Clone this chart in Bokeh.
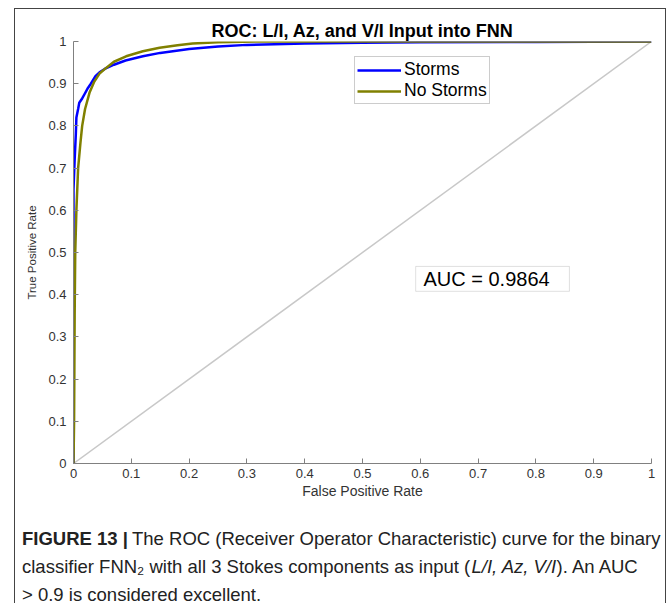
from bokeh.plotting import figure
from bokeh.layouts import column
from bokeh.models import Range1d, FixedTicker, Legend, LegendItem, Label, BoxAnnotation
from bokeh.embed import file_html
from bokeh.resources import INLINE

# ---------------- data ----------------
title_text = "ROC: L/I, Az, and V/I Input into FNN"
x_label = "False Positive Rate"
y_label = "True Positive Rate"
tick_values = [0, 0.1, 0.2, 0.3, 0.4, 0.5, 0.6, 0.7, 0.8, 0.9, 1]
tick_labels = ["0", "0.1", "0.2", "0.3", "0.4", "0.5", "0.6", "0.7", "0.8", "0.9", "1"]

series_names = ["Storms", "No Storms"]

storms_fpr = [0.0, 0.0, 0.0, 0.002, 0.004, 0.005, 0.008, 0.010, 0.015, 0.019, 0.025, 0.030,
              0.038, 0.045, 0.054, 0.070, 0.090, 0.120, 0.150, 0.200, 0.250, 0.300, 0.400,
              0.500, 0.600, 0.800, 1.0]
storms_tpr = [0.0, 0.45, 0.65, 0.72, 0.78, 0.82, 0.84, 0.855, 0.865, 0.875, 0.890, 0.900,
              0.918, 0.927, 0.935, 0.945, 0.955, 0.965, 0.973, 0.982, 0.988, 0.992, 0.995,
              0.997, 0.998, 0.999, 1.0]

nostorms_fpr = [0.0, 0.001, 0.002, 0.003, 0.005, 0.008, 0.012, 0.015, 0.020, 0.028, 0.036,
                0.045, 0.057, 0.070, 0.091, 0.120, 0.149, 0.180, 0.206, 0.250, 0.320, 1.0]
nostorms_tpr = [0.0, 0.10, 0.35, 0.50, 0.60, 0.70, 0.76, 0.80, 0.84, 0.880, 0.905,
                0.924, 0.938, 0.952, 0.965, 0.977, 0.985, 0.991, 0.995, 0.998, 1.0, 1.0]

chance_fpr = [0.0, 1.0]
chance_tpr = [0.0, 1.0]

auc_text = "AUC = 0.9864"

caption_bold = "FIGURE 13 |"
caption_l1 = "The ROC (Receiver Operator Characteristic) curve for the binary"
caption_l2a = "classifier FNN\u2082 with all 3 Stokes components as input ("
caption_l2b = "L/I, Az, V/I"
caption_l2c = "). An AUC"
caption_l3 = "> 0.9 is considered excellent."

FONT = "Liberation Sans"

# ---------------- chart figure ----------------
p = figure(width=650, height=500, output_backend="svg", toolbar_location=None,
           x_range=Range1d(0, 1), y_range=Range1d(0, 1),
           min_border_left=58, min_border_right=14, min_border_top=32, min_border_bottom=46)
p.frame_align = False
p.outline_line_color = None
p.grid.visible = False
p.background_fill_color = "white"
p.border_fill_color = "white"

p.title.text = title_text
p.title.align = "center"
p.title.text_font = FONT
p.title.text_font_size = "18px"
p.title.text_font_style = "bold"
p.title.text_color = "black"
p.title.standoff = 2

for ax in (p.xaxis[0], p.yaxis[0]):
    ax.ticker = FixedTicker(ticks=tick_values)
    ax.major_label_overrides = dict(zip(tick_values, tick_labels))
    ax.minor_tick_line_color = None
    ax.major_tick_in = 5
    ax.major_tick_out = 0
    ax.axis_line_color = "#808080"
    ax.major_tick_line_color = "#808080"
    ax.major_label_text_font = FONT
    ax.major_label_text_font_size = "13px"
    ax.major_label_text_color = "#333333"
    ax.axis_label_text_font = FONT
    ax.axis_label_text_font_style = "normal"
    ax.axis_label_text_color = "#333333"

p.xaxis.axis_label = x_label
p.xaxis.axis_label_text_font_size = "14px"
p.xaxis.axis_label_standoff = 2
p.xaxis.major_label_standoff = 5
p.yaxis.axis_label = y_label
p.yaxis.axis_label_text_font_size = "11.5px"
p.yaxis.axis_label_standoff = 7
p.yaxis.major_label_standoff = 7

p.line(chance_fpr, chance_tpr, line_color="#c8c8c8", line_width=1.5)
r_storm = p.line(storms_fpr, storms_tpr, line_color="#0000ff", line_width=2.5)
r_nostorm = p.line(nostorms_fpr, nostorms_tpr, line_color="#808000", line_width=2.5)

legend = Legend(items=[LegendItem(label=series_names[0], renderers=[r_storm]),
                       LegendItem(label=series_names[1], renderers=[r_nostorm])],
                location=(281, 359))
legend.label_text_font = FONT
legend.label_text_font_size = "17.5px"
legend.label_text_color = "black"
legend.glyph_width = 44
legend.glyph_height = 16
legend.label_height = 16
legend.label_standoff = 3
legend.padding = 2
legend.spacing = 0
legend.margin = 0
legend.border_line_color = "#999999"
legend.border_line_width = 1
legend.background_fill_alpha = 1
p.add_layout(legend)

# AUC box
p.add_layout(BoxAnnotation(left=0.592, right=0.858, bottom=0.408, top=0.467,
                           fill_color="white", fill_alpha=1,
                           line_color="#999999", line_width=1))
p.add_layout(Label(x=0.6055, y=0.437, text=auc_text, text_baseline="middle",
                   text_font=FONT, text_font_size="20px", text_color="black"))

# ---------------- caption figure ----------------
cap = figure(width=650, height=94, output_backend="svg", toolbar_location=None,
             x_range=Range1d(0, 650), y_range=Range1d(94, 0),
             x_axis_type=None, y_axis_type=None,
             min_border_left=0, min_border_right=0, min_border_top=0, min_border_bottom=0)
cap.frame_align = False
cap.outline_line_color = None
cap.grid.visible = False
cap.background_fill_color = "white"
cap.border_fill_color = "white"

cap_style = dict(text_baseline="middle", text_font=FONT, text_font_size="18.5px",
                 text_color="#222222")
cap.add_layout(Label(x=6.5, y=28.5, text=caption_bold, text_font_style="bold", **cap_style))
cap.add_layout(Label(x=116.5, y=28.5, text=caption_l1, **cap_style))
cap.add_layout(Label(x=6.5, y=56.5, text=caption_l2a, **cap_style))
cap.add_layout(Label(x=456, y=56.5, text=caption_l2b, text_font_style="italic", **cap_style))
cap.add_layout(Label(x=541, y=56.5, text=caption_l2c, **cap_style))
cap.add_layout(Label(x=6.5, y=84.5, text=caption_l3, **cap_style))

page = column(p, cap, spacing=0, margin=(8, 0, 0, 14),
              styles={"border-left": "1.5px solid #444444",
                      "border-top": "1.5px solid #444444",
                      "border-right": "1.5px solid #444444"})

open("out.html", "w").write(file_html(page, INLINE))
